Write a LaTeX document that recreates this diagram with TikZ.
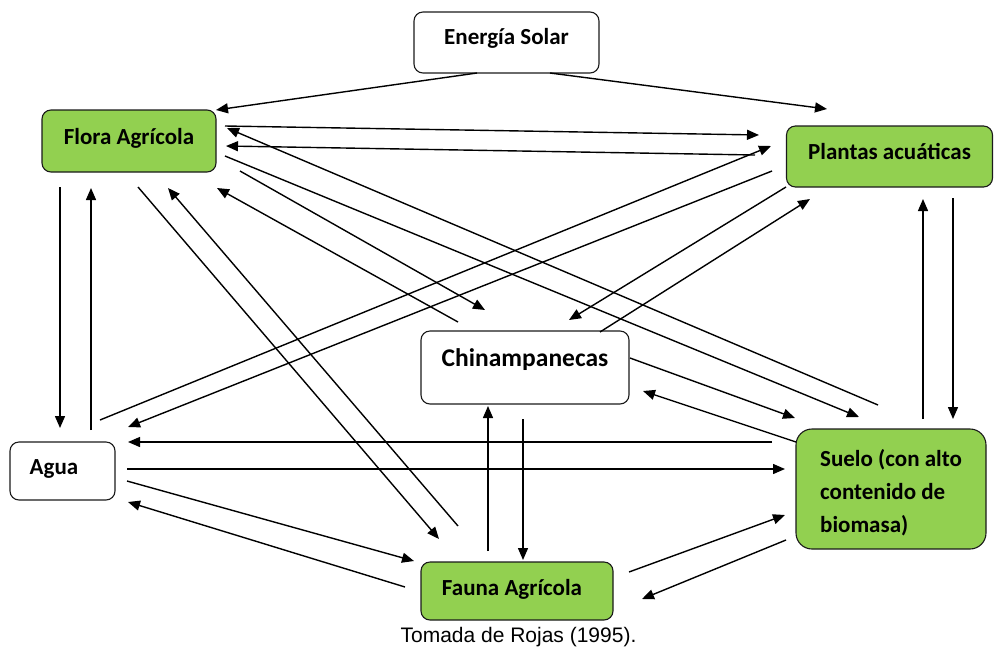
\documentclass[tikz,border=0pt]{standalone}
\usepackage{fontspec}
\setmainfont{Carlito}
\newfontfamily\capfont{Liberation Sans}
\usetikzlibrary{arrows.meta}
\definecolor{leaf}{HTML}{92D050}
\definecolor{edge}{HTML}{1A1A1A}
\newcommand\lnk[3]{%
  \coordinate (#1-a) at (#2);
  \coordinate (#1-b) at (#3);
  \draw[link] (#1-a) -- (#1-b);}
\begin{document}
\begin{tikzpicture}[x=1pt,y=-1pt,
  box/.style={draw=edge, line width=1.1pt, rounded corners=9pt, inner sep=0pt,
    font=\fontsize{23}{33}\selectfont\bfseries},
  leafbox/.style={fill=leaf},
  tx/.style={text height=15pt, text depth=#1},
  link/.style={line width=1.4pt, -{Triangle[length=12pt,width=10pt]}}]
\useasboundingbox (0,0) rectangle (994,649);

% nodes
\node[box, tx=10.2pt, minimum width=185pt, minimum height=61pt] (sol) at (506.5,42.5) {Energía Solar};
\node[box, leafbox, tx=8.8pt, minimum width=174pt, minimum height=62pt] (flora) at (129,141) {Flora Agrícola};
\node[box, leafbox, tx=8.2pt, minimum width=206pt, minimum height=61pt] (plant) at (889.5,156.5) {Plantas acuáticas};
\node[box, font=\fontsize{25.5}{30}\selectfont\bfseries, text height=17pt, text depth=18.6pt, minimum width=208pt, minimum height=73pt] (chin) at (525,367.5) {Chinampanecas};
\node[box, tx=7.2pt, minimum width=105pt, minimum height=58pt] (agua) at (62.5,471) {Agua\rule{17pt}{0pt}};
\node[box, leafbox, tx=6.2pt, minimum width=192pt, minimum height=58pt] (fauna) at (517,591) {Fauna Agrícola\rule{10pt}{0pt}};
\node[box, leafbox, rounded corners=16pt, minimum width=190pt, minimum height=120pt, align=left, text height=92pt, text depth=6pt] (suelo) at (891,489) {Suelo (con alto\\contenido de\\biomasa)};
\node[font=\capfont\fontsize{21}{21}\selectfont, inner sep=0pt, anchor=base] (cap) at (518.5,642) {Tomada de Rojas (1995).};

% connectors
\lnk{sf}{477,73}{216,110}
\lnk{sp}{550,73}{827,109}
\lnk{fp}{225,126}{759,135}
\lnk{pf}{755,155}{226,146}
\lnk{suf}{878,405}{227,128}
\lnk{fsu}{225,156}{859,417}
\lnk{fc}{240,171}{485,310}
\lnk{cf}{458,322}{217,188}
\lnk{fa}{60,187}{60,428}
\lnk{af}{91,430}{91,188}
\lnk{ffa}{138,187}{439,539}
\lnk{faf}{458,526}{168,188}
\lnk{ap}{100,420}{771,146}
\lnk{pa}{772,171}{128,427}
\lnk{pc}{786,187}{569,320}
\lnk{cp}{600,332}{810,199}
\lnk{sup}{923,419}{923,199}
\lnk{psu}{953,198}{953,419}
\lnk{csu}{630,358}{795,418}
\lnk{suc}{796,442}{643,391}
\lnk{sua}{772,442}{128,442}
\lnk{asu}{127,469}{785,469}
\lnk{afa}{127,481}{414,561}
\lnk{faa}{405,587}{128,502}
\lnk{cfa}{523,419}{523,560}
\lnk{fac}{488,551}{488,406}
\lnk{fasu}{629,572}{785,515}
\lnk{sufa}{786,540}{642,599}
\end{tikzpicture}
\end{document}
